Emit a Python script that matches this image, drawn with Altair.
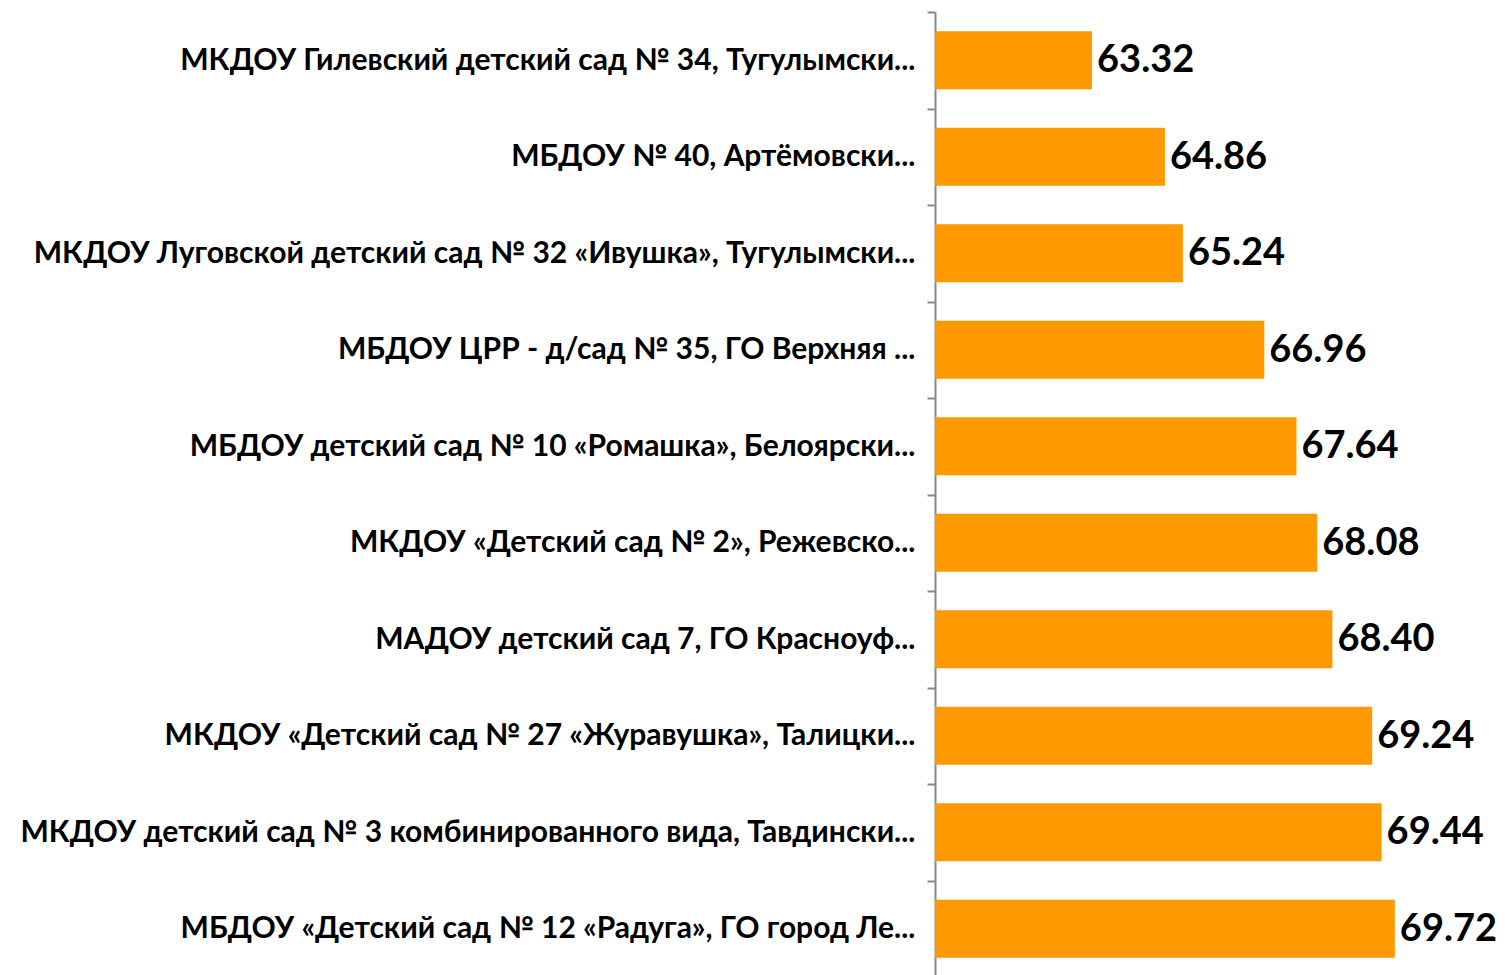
import altair as alt
import pandas as pd

names = [
    "МКДОУ Гилевский детский сад № 34, Тугулымски...",
    "МБДОУ № 40, Артёмовски...",
    "МКДОУ Луговской детский сад № 32 «Ивушка», Тугулымски...",
    "МБДОУ ЦРР - д/сад № 35, ГО Верхняя ...",
    "МБДОУ детский сад № 10 «Ромашка», Белоярски...",
    "МКДОУ «Детский сад № 2», Режевско...",
    "МАДОУ детский сад 7, ГО Красноуф...",
    "МКДОУ «Детский сад № 27 «Журавушка», Талицки...",
    "МКДОУ детский сад № 3 комбинированного вида, Тавдински...",
    "МБДОУ  «Детский сад № 12 «Радуга», ГО город Ле...",
]
values = [63.32, 64.86, 65.24, 66.96, 67.64, 68.08, 68.40, 69.24, 69.44, 69.72]

df = pd.DataFrame({"name": names, "value": values})
df["label"] = [f"{v:.2f}" for v in values]

FONT = "Lato"

y = alt.Y(
    "name:N",
    sort=names,
    title=None,
    scale=alt.Scale(paddingInner=0, paddingOuter=0),
    axis=alt.Axis(
        labelFont=FONT,
        labelFontWeight="bold",
        labelFontSize=30,
        labelColor="#000000",
        labelLimit=1000,
        labelPadding=12,
        tickSize=8,
        tickColor="#888888",
        tickWidth=2,
        tickBand="extent",
        domainColor="#888888",
        domainWidth=2,
    ),
)
x = alt.X(
    "value:Q",
    title=None,
    scale=alt.Scale(domain=[60, 71.9], nice=False, zero=False, clamp=True),
    axis=None,
)

bars = alt.Chart(df).mark_bar(color="#FF9900", height={"band": 0.6}).encode(
    y=y, x=x, x2=alt.datum(60)
)
text = alt.Chart(df).mark_text(
    align="left", baseline="middle", dx=5, dy=1,
    font=FONT, fontWeight="bold", fontSize=38, color="#000000",
).encode(y=alt.Y("name:N", sort=names), x="value:Q", text="label:N")

chart = (
    alt.layer(bars, text)
    .properties(
        width=563,
        height=965,
        background="white",
        autosize=alt.AutoSizeParams(type="none"),
        padding={"left": 927, "top": 4, "right": 0, "bottom": 0},
    )
    .configure_view(strokeWidth=0, stroke="transparent")
)

chart.save("out.html", embed_options={"renderer": "svg", "actions": False})
